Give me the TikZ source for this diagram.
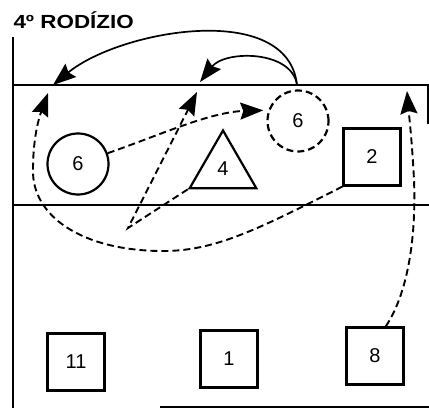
\documentclass[tikz,border=0pt]{standalone}
\usepackage{fontspec}
\setmainfont{Liberation Sans}
\usetikzlibrary{arrows.meta,shapes.geometric}

\tikzset{
  tipo/.tip={Stealth[length=23pt, width=17pt, inset=3pt]}
}

\begin{document}
\begin{tikzpicture}[x=1pt, y=1pt,
  frame/.style={line width=2.4pt},
  player/.style={draw, line width=2.2pt, inner sep=0pt, font=\fontsize{20}{20}\selectfont},
  box/.style={player, rectangle, minimum size=57pt},
  ring/.style={player, circle, minimum size=61pt},
  move/.style={line width=1.7pt, -tipo},
  run/.style={move, line width=1.9pt, dash pattern=on 7pt off 4pt}]

  \useasboundingbox (0,0) rectangle (429,408);

  %%%%% court %%%%%
  \draw[frame] (13,371) -- (13,0);
  \draw[frame] (13,323) -- (429,323);
  \draw[frame] (13,203) -- (429,203);
  \draw[frame] (160,1) -- (429,1);
  \draw[line width=1.2pt] (428,323) -- (428,284);

  \node[anchor=base west, font=\bfseries\fontsize{19}{19}\selectfont] (titulo) at (10,379) {\scalebox{1.18}[1]{4º RODÍZIO}};

  %%%%% players %%%%%
  \node[ring] (p6) at (78,244) {6};
  \node[ring, dash pattern=on 7pt off 4pt] (p6b) at (298,287) {6};
  \node[player, regular polygon, regular polygon sides=3, minimum size=77pt] (p4) at (223,239) {4};
  \node[box] (p2) at (372,251) {2};

  \node[box] (p11) at (76,46) {11};
  \node[box] (p1) at (229,49) {1};
  \node[box] (p8) at (375,52) {8};

  %%%%% moves %%%%%
  \coordinate (saida) at (297,323);
  \coordinate (alvoA) at (53,323);
  \coordinate (alvoB) at (200,326);
  \coordinate (alvoC) at (48,315);
  \coordinate (alvoD) at (197,316);
  \coordinate (alvoE) at (407,317);
  \coordinate (vertice) at (128,180);

  \draw[move] (saida) .. controls (288,408) and (120,378) .. (alvoA);
  \draw[move] (saida) .. controls (292,358) and (225,358) .. (alvoB);

  \draw[run, shorten >=5pt] (p6.20) .. controls (160,273) and (210,296) .. (p6b.160);
  \draw[run] (p4.corner 2) -- (vertice) -- (alvoD);
  \draw[run] (p2.south west) .. controls (260,180) and (215,156) .. (160,157)
    .. controls (80,158) and (32,193) .. (33,238)
    .. controls (33,273) and (40,293) .. (alvoC);
  \draw[run] (p8.70) .. controls (410,118) and (416,178) .. (414,228)
    .. controls (412,268) and (409,293) .. (alvoE);

\end{tikzpicture}
\end{document}
